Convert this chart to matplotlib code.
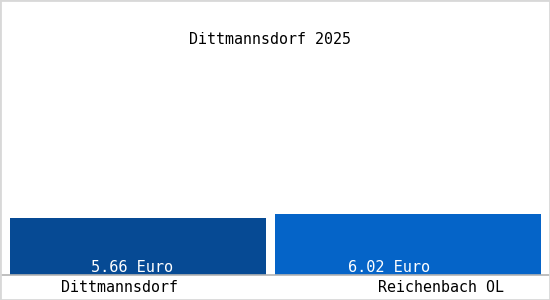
import matplotlib
matplotlib.use("Agg")
import matplotlib.pyplot as plt
from matplotlib.patches import Rectangle

TITLE = "Dittmannsdorf 2025"
CATEGORIES = ["Dittmannsdorf", "Reichenbach OL"]
VALUES = [5.66, 6.02]
VALUE_LABELS = ["5.66 Euro", "6.02 Euro"]

# layout (pixel units along x, px per euro along y)
BAR_LEFT = [10, 275]
BAR_WIDTH = [256, 266]
VALUE_X = [132, 389]
LABEL_X = [119, 441]
COLORS = ["#064a94", "#0564c8"]
PX_PER_EURO = 10.07
FONT = "DejaVu Sans Mono"

fig = plt.figure(figsize=(5.5, 3.0), dpi=100)
fig.patch.set_facecolor("white")

# full-width axes, baseline 25 px above the bottom
ax = fig.add_axes([0, 25 / 300, 1, 275 / 300])
ax.set_xlim(0, 550)
ax.set_ylim(0, 275 / PX_PER_EURO)
ax.axis("off")

for left, w, v, c, tx, lbl in zip(BAR_LEFT, BAR_WIDTH, VALUES, COLORS, VALUE_X, VALUE_LABELS):
    ax.bar(left, v, width=w, align="edge", color=c, linewidth=0)
    ax.text(tx, 0.25, lbl, ha="center", va="baseline",
            color="white", fontsize=11, family=FONT, fontweight="medium")

# baseline
ax.axhline(0, color="#b4b4b4", linewidth=1.2, clip_on=False)

# category labels below the baseline
for x, name in zip(LABEL_X, CATEGORIES):
    fig.text(x / 550, 1 - 292 / 300, name, ha="center", va="baseline",
             fontsize=10.8, family=FONT, color="black")

fig.text(270 / 550, 1 - 43.5 / 300, TITLE, ha="center", va="baseline",
         fontsize=10.8, family=FONT, color="black")

# light frame around the image
fig.patches.append(Rectangle((0, 0), 1, 1, transform=fig.transFigure,
                             fill=False, edgecolor="#d8d8d8", linewidth=2))

fig.savefig("out.png", dpi=100)
